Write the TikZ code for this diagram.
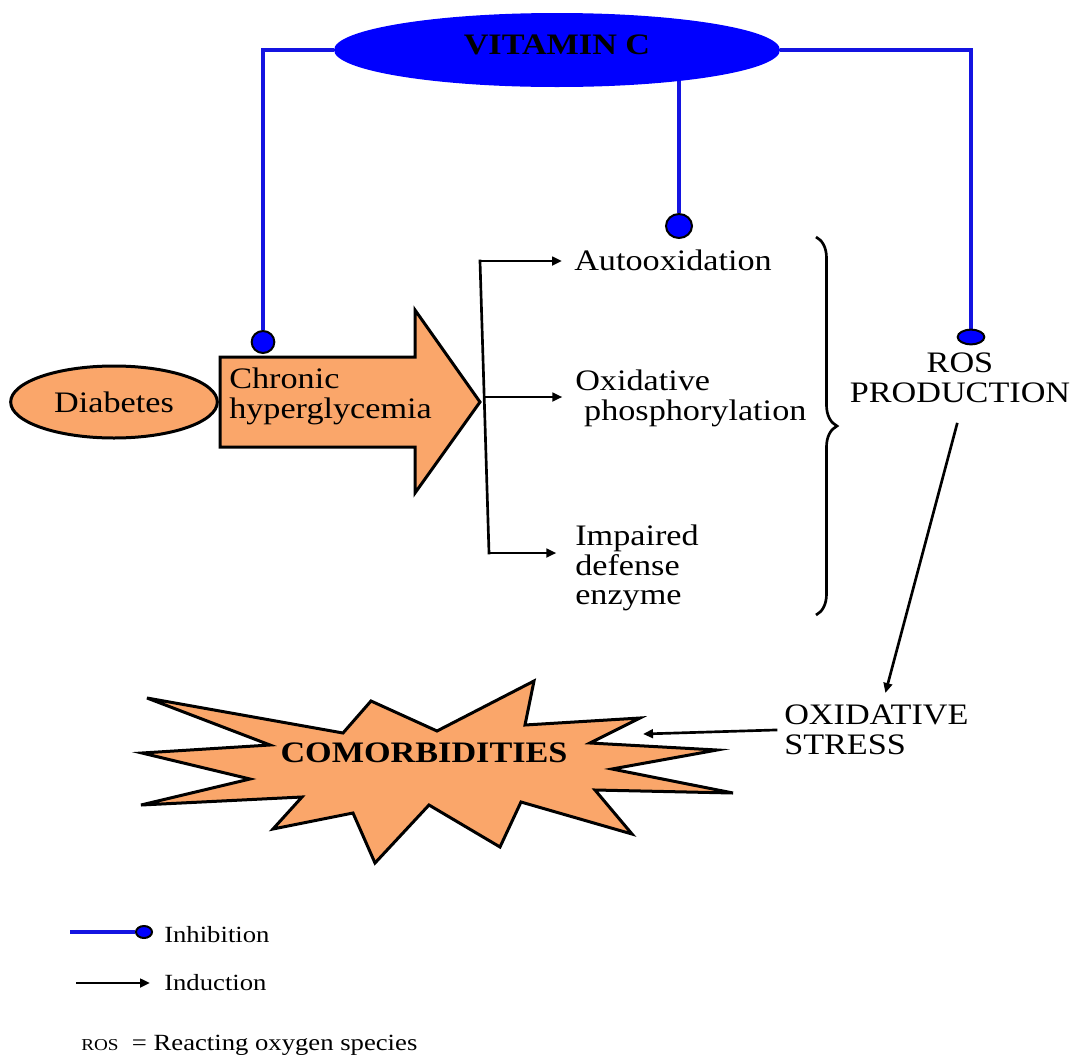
\documentclass[tikz,border=0pt]{standalone}
\usepackage{fontspec}
\setmainfont{Liberation Serif}[FakeStretch=1.15]
\usetikzlibrary{arrows.meta,shapes.geometric,decorations.pathreplacing,backgrounds}
\definecolor{orng}{RGB}{250,166,106}
\definecolor{vblue}{RGB}{0,0,255}
\definecolor{lblue}{RGB}{20,20,225}
\newcommand\mainsz{\fontsize{22.3}{22}\selectfont}
\newcommand\legsz{\fontsize{17.4}{20}\selectfont}
\begin{document}
\begin{tikzpicture}[x=0.75pt,y=-0.75pt,
  txt/.style={inner sep=0pt, font=\mainsz, align=left},
  inh/.style={draw=lblue, line width=3pt},
  dot/.style={ellipse, draw=black, fill=vblue, line width=1.5pt, inner sep=0pt},
  ind/.style={draw=black, line width=2pt, -{Triangle[length=7.5pt,width=6.5pt]}},
  shapeline/.style={draw=black, line width=2.25pt, fill=orng}]
\useasboundingbox (0,0) rectangle (1079,1061);

% Vitamin C
\node[ellipse, fill=vblue, minimum width=334.5pt, minimum height=55.5pt, inner sep=0pt,
      text depth=7.5pt, font=\mainsz\bfseries] (vitc) at (557,50) {VITAMIN C};

% Diabetes and chronic hyperglycemia arrow
\node[ellipse, shapeline, minimum width=155pt, minimum height=54pt, inner sep=0pt,
      font=\mainsz] (diab) at (114,402) {Diabetes};
\filldraw[shapeline] (220,357) -- (415,357) -- (415,310) -- (480,402) -- (415,493)
  -- (415,447) -- (220,447) -- cycle;
\node[txt, anchor=north west] (chg) at (229,368) {Chronic\\hyperglycemia};

% inhibition dots
\node[dot, minimum width=17pt, minimum height=16.5pt] (d1) at (263,342) {};
\node[dot, minimum width=19.5pt, minimum height=18pt] (d2) at (679,226) {};
\node[dot, minimum width=20pt, minimum height=11pt] (d3) at (971,337) {};

\begin{scope}[on background layer]
\draw[inh] (vitc.west) -| (d1.north);
\draw[inh] (vitc.east) -| (d3.north);
\draw[inh] (d2.north) -- (d2.north |- vitc.center);
\end{scope}

% texts
\node[txt, anchor=base west] (auto) at (574,270) {Autooxidation};
\node[txt, anchor=north west] (oxp) at (575,370) {Oxidative\\\hspace*{0.3em}phosphorylation};
\node[txt, anchor=north west] (imp) at (575,525) {Impaired\\defense\\enzyme};
\node[txt, anchor=north, align=center] (ros) at (960,353) {ROS\\PRODUCTION};
\node[txt, anchor=north west] (oxs) at (784,705) {OXIDATIVE\\STRESS};

% brace
\coordinate (bt) at (816,237);
\coordinate (bb) at (816,615);
\draw[line width=2pt, decorate, decoration={brace, amplitude=15.75pt}] (bt) -- (bb);

% branching induction arrows
\coordinate (vtop) at (480,261);
\coordinate (vmid) at (484,397);
\coordinate (vbot) at (489,553);
\draw[line width=2pt, line cap=rect] (vtop) -- (vbot);
\draw[ind, shorten >=9pt] (vtop) -- (vtop -| auto.west);
\draw[ind, shorten >=9.5pt] (vmid) -- (vmid -| oxp.west);
\draw[ind, shorten >=14pt] (vbot) -- (vbot -| imp.west);

% comorbidities star
\filldraw[shapeline] (147,698) -- (343,733) -- (371,701) -- (437,731) -- (534,681)
  -- (525,725) -- (640,718) -- (590,743) -- (717,750) -- (612,769) -- (733,793)
  -- (595,790) -- (632,834) -- (521,802) -- (500,847) -- (429,805) -- (375,863)
  -- (353,813) -- (273,829) -- (302,797) -- (141,805) -- (250,779) -- (142,753)
  -- (270,745) -- cycle;
\node[font=\mainsz\bfseries, inner sep=0pt] (com) at (424,753) {COMORBIDITIES};

% ROS -> oxidative stress -> comorbidities
\draw[ind] ([xshift=-2pt,yshift=-15pt]ros.south) -- ([xshift=6.75pt,yshift=9pt]oxs.north);
\coordinate (comR) at (643,734);
\draw[ind] ([xshift=-5pt]oxs.west) -- (comR);

% legend
\coordinate (l1a) at (70,932);
\node[dot, minimum width=12pt, minimum height=9pt] (l1d) at (144,932) {};
\draw[inh] (l1a) -- (l1d.west);
\node[txt, font=\legsz, anchor=base west] (l1t) at (164,942) {Inhibition};
\coordinate (l2a) at (76,983);
\coordinate (l2b) at (150,983);
\draw[ind] (l2a) -- (l2b);
\node[txt, font=\legsz, anchor=base west] (l2t) at (164,990) {Induction};
\node[txt, font=\legsz, anchor=base west] (l3t) at (81,1050)
  {{\fontsize{12.5}{14}\selectfont ROS}\ \ = Reacting oxygen species};
\end{tikzpicture}
\end{document}
